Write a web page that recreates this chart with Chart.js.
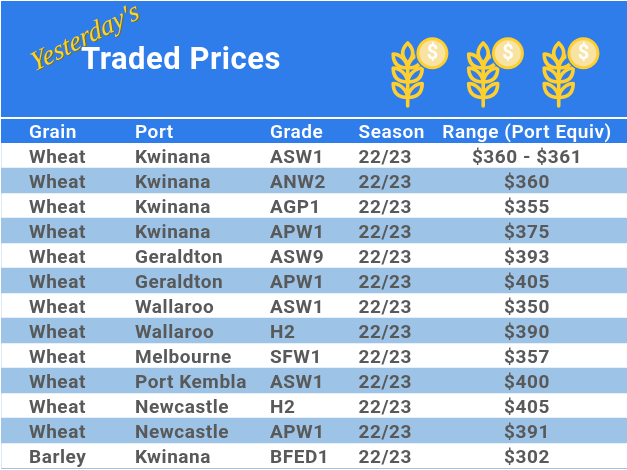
<!DOCTYPE html>
<html><head><meta charset="utf-8">
<style>html,body{margin:0;padding:0;background:#fff}canvas{display:block}</style>
<script src="https://cdn.jsdelivr.net/npm/chart.js@4/dist/chart.umd.min.js"></script>
</head><body><canvas id="c" width="627" height="470"></canvas>
<script>
const headers=["Grain","Port","Grade","Season","Range (Port Equiv)"];
const grains=["Wheat","Wheat","Wheat","Wheat","Wheat","Wheat","Wheat","Wheat","Wheat","Wheat","Wheat","Wheat","Barley"];
const ports=["Kwinana","Kwinana","Kwinana","Kwinana","Geraldton","Geraldton","Wallaroo","Wallaroo","Melbourne","Port Kembla","Newcastle","Newcastle","Kwinana"];
const grades=["ASW1","ANW2","AGP1","APW1","ASW9","APW1","ASW1","H2","SFW1","ASW1","H2","APW1","BFED1"];
const seasons=["22/23","22/23","22/23","22/23","22/23","22/23","22/23","22/23","22/23","22/23","22/23","22/23","22/23"];
const ranges=["$360 - $361","$360","$355","$375","$393","$405","$350","$390","$357","$400","$405","$391","$302"];
const stripes=[0,1,0,1,0,1,0,1,0,1,0,1,0];
const title="Traded Prices", subtitle="Yesterday's";
const BLUE="#2F7DEB",STRIPE="#9DC3E6",TEXT="#595959",YEL="#FFCF2E";
const colX=[29,135,270,358.5];
const FONT='Roboto, sans-serif';

function icon(ctx,x){
  ctx.save();ctx.translate(x,107);
  ctx.strokeStyle=YEL;ctx.lineWidth=3.6;ctx.lineCap="round";ctx.lineJoin="round";
  ctx.beginPath();ctx.moveTo(0,-1);ctx.lineTo(0,-43);ctx.stroke();
  ctx.beginPath();ctx.moveTo(0,-64);ctx.quadraticCurveTo(-10,-54,0,-44);ctx.quadraticCurveTo(10,-54,0,-64);ctx.stroke();
  for(const yb of [-9.5,-25,-39]){
    for(const s of [-1,1]){
      ctx.beginPath();ctx.moveTo(0,yb);
      ctx.bezierCurveTo(s*8,yb,s*14.5,yb-3,s*14.5,yb-14);
      ctx.bezierCurveTo(s*8,yb-14,s*1,yb-8,0,yb);
      ctx.stroke();
    }
  }
  ctx.restore();
  const cx=x+24.7,cy=53.3;
  ctx.fillStyle=BLUE;ctx.beginPath();ctx.arc(cx,cy,17.3,0,Math.PI*2);ctx.fill();
  ctx.fillStyle=YEL;ctx.beginPath();ctx.arc(cx,cy,16,0,Math.PI*2);ctx.fill();
  ctx.fillStyle="#F9E3A3";ctx.beginPath();ctx.arc(cx,cy,13,0,Math.PI*2);ctx.fill();
  ctx.fillStyle="#fff";ctx.font='bold 20px '+FONT;ctx.textAlign="center";ctx.textBaseline="middle";ctx.letterSpacing="0px";
  ctx.fillText("$",cx,cy+1);
}

const tablePlugin={id:"table",
  beforeDraw(chart){
    const c=chart.ctx;
    c.save();
    c.fillStyle="#fff";c.fillRect(0,0,627,470);
    c.fillStyle=BLUE;c.fillRect(1,1,626,116);c.fillRect(1,119,626,24);
    c.restore();
  },
  afterDraw(chart){
    const c=chart.ctx,y=chart.scales.y;
    c.save();
    c.fillStyle=STRIPE;c.fillRect(1,468,626,1);
    c.textBaseline="middle";c.textAlign="left";
    c.letterSpacing="0.55px";
    c.fillStyle="#fff";c.font='600 19px '+FONT;
    headers.slice(0,4).forEach((h,i)=>c.fillText(h,colX[i],133));
    c.textAlign="center";c.fillText(headers[4],527,133);
    c.font='bold 19px '+FONT;c.fillStyle=TEXT;
    grains.forEach((_,i)=>{
      const py=y.getPixelForValue(i)+2.5;
      c.textAlign="left";
      c.fillText(grains[i],colX[0],py);
      c.fillText(ports[i],colX[1],py);
      c.fillText(grades[i],colX[2],py);
      c.fillText(seasons[i],colX[3],py);
      c.textAlign="center";
      c.fillText(ranges[i],527,py);
    });
    c.fillStyle="#fff";c.textAlign="left";c.font='bold 31px '+FONT;c.letterSpacing="0.5px";
    c.fillText(title,81,61);
    c.save();c.translate(32,65);c.rotate(-0.47);c.transform(1,0,-0.15,1,0,0);
    c.letterSpacing="0px";
    c.font='italic 27px "Liberation Serif", serif';c.fillStyle="#7a6a10";
    c.fillText(subtitle,1,1);c.fillStyle="#FFD42A";c.fillText(subtitle,0,0);
    c.restore();
    [407.7,483.2,558.7].forEach(x=>icon(c,x));
    c.restore();
  }};

new Chart(document.getElementById("c"),{
  type:"bar",
  data:{labels:grains.map((_,i)=>i),datasets:[{data:stripes,backgroundColor:STRIPE,barPercentage:1,categoryPercentage:1,borderWidth:0}]},
  options:{indexAxis:"y",responsive:false,animation:false,devicePixelRatio:1,
    layout:{padding:{left:1,top:143,right:0,bottom:2}},
    plugins:{legend:{display:false},tooltip:{enabled:false},title:{display:false}},
    scales:{x:{display:false,min:0,max:1},y:{display:false}}},
  plugins:[tablePlugin]});
</script></body></html>
